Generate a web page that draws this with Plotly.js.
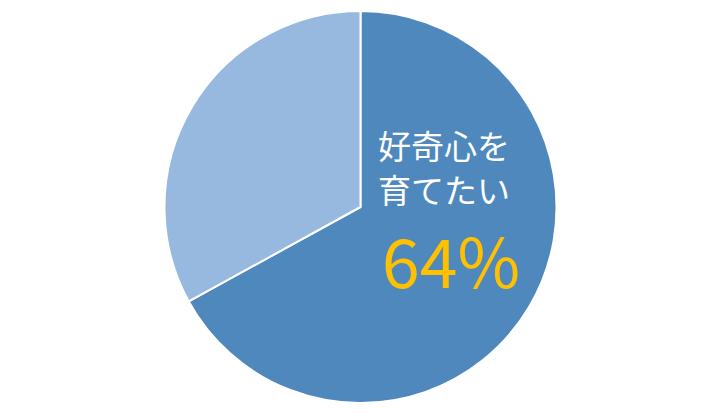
<!DOCTYPE html>
<html>
<head>
<meta charset="utf-8">
<script src="https://cdn.plot.ly/plotly-3.0.1.min.js"></script>
<style>
  html, body { margin: 0; padding: 0; background: #fff; }
  #chart { width: 720px; height: 413px; }
</style>
</head>
<body>
<div id="chart"></div>
<script>
// 割合（円の角度から読み取り）と表示ラベル
const labels = ['好奇心を育てたい', 'その他'];
const values = [67, 33];
const colors = ['#4F88BD', '#98B9DF'];
const mainLabelLines = ['好奇心を', '育てたい'];
const mainPercent = '64%';

const W = 720, H = 413;
const cx = 360.5, cy = 207, r = 196;

const trace = {
  type: 'pie',
  labels,
  values,
  sort: false,
  direction: 'clockwise',
  rotation: 0,
  textinfo: 'none',
  hoverinfo: 'label+percent',
  marker: { colors, line: { color: '#ffffff', width: 2 } },
  domain: {
    x: [(cx - r) / W, (cx + r) / W],
    y: [1 - (cy + r) / H, 1 - (cy - r) / H],
  },
  showlegend: false,
};

const font = '"Noto Sans CJK JP", "Noto Sans", sans-serif';

const layout = {
  width: W,
  height: H,
  margin: { t: 0, r: 0, b: 0, l: 0 },
  paper_bgcolor: '#ffffff',
  showlegend: false,
  annotations: [
    {
      xref: 'paper', yref: 'paper', x: 444 / W, y: 1 - 145 / H,
      text: mainLabelLines[0], showarrow: false,
      font: { family: font, size: 33, color: '#ffffff' },
    },
    {
      xref: 'paper', yref: 'paper', x: 444 / W, y: 1 - 189 / H,
      text: mainLabelLines[1], showarrow: false,
      font: { family: font, size: 33, color: '#ffffff' },
    },
    {
      xref: 'paper', yref: 'paper', x: 451 / W, y: 1 - 258 / H,
      text: mainPercent, showarrow: false,
      font: { family: font, size: 68, color: '#FFC000' },
    },
  ],
};

Plotly.newPlot('chart', [trace], layout, { displayModeBar: false, staticPlot: true });
</script>
</body>
</html>
